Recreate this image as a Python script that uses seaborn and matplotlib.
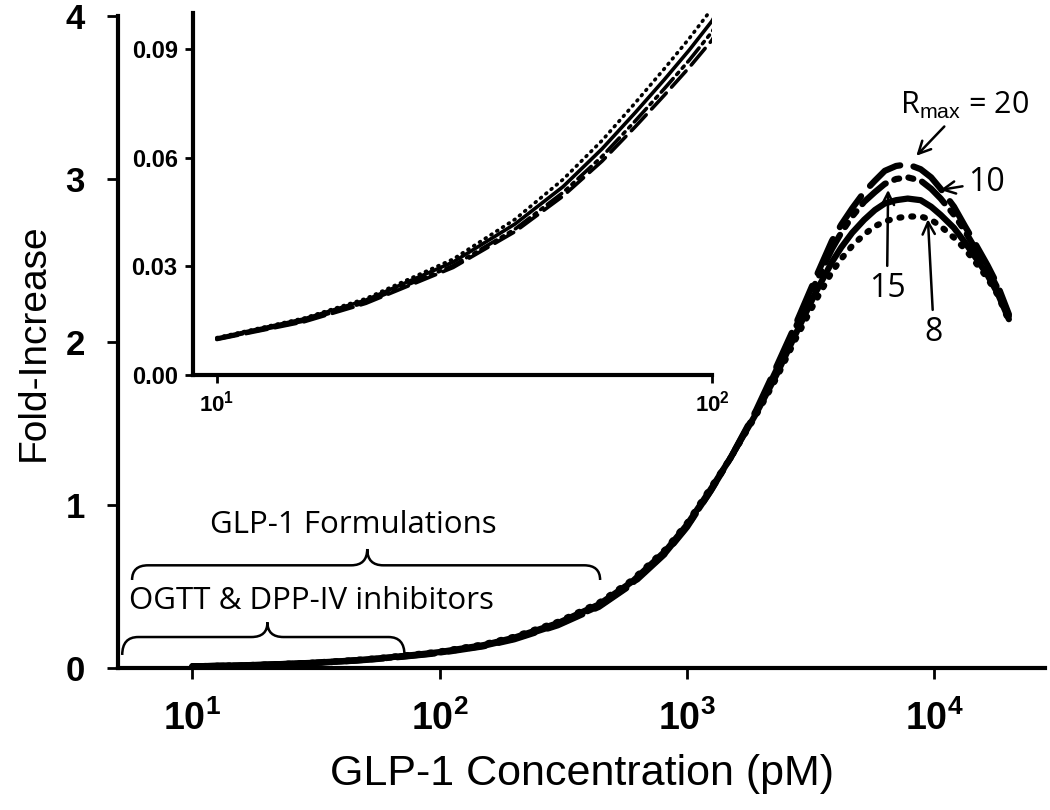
import numpy as np
import pandas as pd
import matplotlib
matplotlib.use("Agg")
import matplotlib.pyplot as plt
from matplotlib import font_manager
from matplotlib.path import Path
from matplotlib.patches import PathPatch
from matplotlib.transforms import IdentityTransform
import seaborn as sns

# --- data ---
conc = [10, 15, 20, 30, 40, 50, 60, 70, 80, 90, 100, 150, 200, 300, 440, 600, 820,
        1000, 1250, 1500, 1900, 2300, 2750, 3300, 3850, 4200, 4650, 5200, 5750, 6300,
        7000, 7800, 8800, 9700, 10600, 12000, 13300, 14800, 16400, 18000, 20000]

fold_r8 = [0.0103, 0.0157, 0.0211, 0.0320, 0.0430, 0.0540, 0.0648, 0.0752, 0.0845, 0.0930,
           0.1012, 0.145, 0.192, 0.283, 0.40, 0.54, 0.73, 0.89, 1.11, 1.29, 1.55, 1.78,
           2.02, 2.25, 2.43, 2.51, 2.59, 2.66, 2.71, 2.74, 2.76, 2.77, 2.77, 2.75, 2.71,
           2.64, 2.57, 2.48, 2.39, 2.29, 2.13]
fold_r10 = [0.0102, 0.0155, 0.0207, 0.0312, 0.0417, 0.0520, 0.0625, 0.0725, 0.0815, 0.0898,
            0.0978, 0.140, 0.186, 0.275, 0.39, 0.53, 0.72, 0.88, 1.10, 1.29, 1.56, 1.80,
            2.05, 2.30, 2.49, 2.58, 2.67, 2.75, 2.81, 2.85, 2.87, 2.88, 2.87, 2.83, 2.78,
            2.70, 2.61, 2.51, 2.41, 2.30, 2.14]
fold_r15 = [0.0099, 0.0149, 0.0201, 0.0302, 0.0403, 0.0504, 0.0604, 0.0702, 0.0790, 0.0870,
            0.0948, 0.136, 0.180, 0.267, 0.38, 0.52, 0.71, 0.87, 1.09, 1.29, 1.57, 1.83,
            2.09, 2.36, 2.57, 2.67, 2.77, 2.86, 2.92, 2.97, 3.00, 3.01, 2.99, 2.94, 2.88,
            2.78, 2.68, 2.56, 2.45, 2.33, 2.16]
fold_r20 = [0.0098, 0.0147, 0.0198, 0.0297, 0.0396, 0.0494, 0.0591, 0.0686, 0.0772, 0.0850,
            0.0925, 0.133, 0.176, 0.262, 0.375, 0.515, 0.705, 0.865, 1.09, 1.29, 1.58, 1.85,
            2.11, 2.39, 2.62, 2.72, 2.82, 2.92, 2.99, 3.05, 3.08, 3.09, 3.06, 3.01, 2.94,
            2.83, 2.71, 2.59, 2.47, 2.35, 2.17]

rmax_values = [8, 10, 15, 20]
main_yticks = [0, 1, 2, 3, 4]
main_xticks = [10, 100, 1000, 10000]
main_xticklabels = [r"$\mathbf{10^{1}}$", r"$\mathbf{10^{2}}$", r"$\mathbf{10^{3}}$", r"$\mathbf{10^{4}}$"]
inset_yticks = [0.0, 0.03, 0.06, 0.09]
inset_yticklabels = ["0.00", "0.03", "0.06", "0.09"]
inset_xticks = [10, 100]
inset_xticklabels = [r"$\mathbf{10^{1}}$", r"$\mathbf{10^{2}}$"]

df = pd.concat([
    pd.DataFrame({"conc": conc, "fold": f, "rmax": r})
    for r, f in zip(rmax_values, [fold_r8, fold_r10, fold_r15, fold_r20])
])

sns.set_theme(style="ticks")
installed = {f.name for f in font_manager.fontManager.ttflist}
base = "Liberation Sans Narrow" if "Liberation Sans Narrow" in installed else "Liberation Sans"
plt.rcParams["font.family"] = [base, "DejaVu Sans"]
plt.rcParams["mathtext.fontset"] = "custom"
plt.rcParams["mathtext.rm"] = base
plt.rcParams["mathtext.bf"] = base + ":bold"
for k in ["text.color", "axes.labelcolor", "xtick.color", "ytick.color", "axes.edgecolor"]:
    plt.rcParams[k] = "black"
note_font = ["Open Sans", "Lato", "DejaVu Sans"]

palette = {r: "black" for r in rmax_values}
dashes = {8: (0.3, 1.6), 10: "", 15: (5, 1.5, 0.8, 1.5, 0.8, 1.5), 20: (6, 2.2)}

fig = plt.figure(figsize=(10.5, 8.1), dpi=100)
ax = fig.add_axes([118 / 1050, 142 / 810, 927 / 1050, 652 / 810])

sns.lineplot(data=df, x="conc", y="fold", hue="rmax", style="rmax", palette=palette,
             dashes=dashes, linewidth=4.5, legend=False, errorbar=None, ax=ax,
             dash_capstyle="round", solid_capstyle="round")
ax.set_xscale("log")
ax.set_xlim(5, 28000)
ax.set_ylim(0, 4)
ax.set_xticks(main_xticks)
ax.set_xticklabels(main_xticklabels)
ax.minorticks_off()
ax.set_yticks(main_yticks)
ax.set_yticklabels([str(t) for t in main_yticks], fontweight="bold")
ax.tick_params(axis="both", width=2, length=8, color="black")
ax.tick_params(axis="x", pad=15, labelsize=27)
ax.tick_params(axis="y", pad=16, labelsize=25)
for s in ["top", "right"]:
    ax.spines[s].set_visible(False)
for s in ["left", "bottom"]:
    ax.spines[s].set_linewidth(3)
ax.set_xlabel("GLP-1 Concentration (pM)", fontsize=31, labelpad=12)
ax.set_ylabel("Fold-Increase", fontsize=28, labelpad=10)


def brace(ax, x0, xm, x1, y_end, y_line, y_tip, r=16):
    # curly brace drawn in display pixels from data anchors
    tr = ax.transData
    (X0, Ye), = tr.transform([(x0, y_end)])
    (Xm, Yl), = tr.transform([(xm, y_line)])
    (X1, Yt), = tr.transform([(x1, y_tip)])
    verts = [(X0, Ye), (X0, Yl), (X0 + r, Yl),
             (Xm - r, Yl),
             (Xm, Yl), (Xm, Yt),
             (Xm, Yl), (Xm + r, Yl),
             (X1 - r, Yl),
             (X1, Yl), (X1, Ye)]
    codes = [Path.MOVETO, Path.CURVE3, Path.CURVE3, Path.LINETO,
             Path.CURVE3, Path.CURVE3, Path.CURVE3, Path.CURVE3,
             Path.LINETO, Path.CURVE3, Path.CURVE3]
    ax.add_patch(PathPatch(Path(verts, codes), fill=False, lw=1.8, ec="black",
                           transform=IdentityTransform(), clip_on=False))


brace(ax, 5.2, 20.1, 72, 0.08, 0.19, 0.28)
brace(ax, 5.7, 50.9, 445, 0.54, 0.63, 0.73)
ax.text(44.8, 0.88, "GLP-1 Formulations", ha="center", va="center", fontsize=22.5, family=note_font)
ax.text(30.3, 0.41, "OGTT & DPP-IV inhibitors", ha="center", va="center", fontsize=22.5, family=note_font)

arrow = dict(arrowstyle="->", color="black", lw=1.8, mutation_scale=22)
ax.annotate(r"R$_{\mathrm{max}}$ = 20", xy=(8300, 3.13), xytext=(13200, 3.45),
            ha="center", va="center", fontsize=22, family=note_font, arrowprops=arrow)
ax.annotate("10", xy=(10300, 2.93), xytext=(16300, 2.98), ha="center", va="center",
            fontsize=23, family=note_font, arrowprops=arrow)
ax.annotate("15", xy=(6500, 2.95), xytext=(6430, 2.43), ha="center", va="top",
            fontsize=23, family=note_font, arrowprops=arrow)
ax.annotate("8", xy=(9400, 2.77), xytext=(9950, 2.16), ha="center", va="top",
            fontsize=23, family=note_font, arrowprops=arrow)

# inset zoom on the low-concentration end
ins = fig.add_axes([193 / 1050, 435 / 810, 519 / 1050, 362 / 810])
sns.lineplot(data=df, x="conc", y="fold", hue="rmax", style="rmax", palette=palette,
             dashes=dashes, linewidth=2.6, legend=False, errorbar=None, ax=ins,
             dash_capstyle="round")
ins.set_xscale("log")
ins.set_xlim(8.95, 100)
ins.set_ylim(0, 0.1)
ins.set_xticks(inset_xticks)
ins.set_xticklabels(inset_xticklabels)
ins.minorticks_off()
ins.set_yticks(inset_yticks)
ins.set_yticklabels(inset_yticklabels, fontweight="bold")
ins.tick_params(axis="both", width=2, length=6, color="black")
ins.tick_params(axis="y", labelsize=17, pad=5)
ins.tick_params(axis="x", labelsize=16, pad=5)
ins.set_xlabel("")
ins.set_ylabel("")
for s in ["top", "right"]:
    ins.spines[s].set_visible(False)
for s in ["left", "bottom"]:
    ins.spines[s].set_linewidth(3)
ins.patch.set_alpha(0)

fig.savefig("out.png", dpi=100)
